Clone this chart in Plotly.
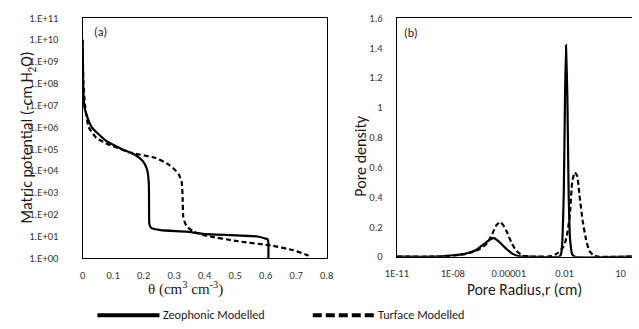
import plotly.graph_objects as go

# ---------------- data: panel (a) water retention ----------------
zeo_theta = [0.0, 0.002, 0.005, 0.01, 0.03, 0.076, 0.128, 0.172, 0.198, 0.211, 0.217, 0.218,
             0.219, 0.225, 0.256, 0.34, 0.394, 0.574, 0.598, 0.607, 0.609, 0.609]
zeo_h = [1e10, 1e8, 1e7, 5e6, 1e6, 2.4e5, 1e5, 5.4e4, 2.7e4, 1.2e4, 3e3, 3e2,
         37, 24, 19, 16.2, 13, 9.8, 7.9, 7.2, 5, 1]

tur_theta = [0.0, 0.003, 0.008, 0.013, 0.02, 0.045, 0.085, 0.125, 0.145, 0.19, 0.24, 0.28, 0.30,
             0.315, 0.325, 0.328, 0.33, 0.336, 0.343, 0.365, 0.405, 0.51, 0.617, 0.69, 0.739, 0.745]
tur_h = [1e10, 1e8, 1e7, 3.2e6, 1e6, 3.2e5, 1.6e5, 1e5, 7.4e4, 5.4e4, 3.8e4, 2e4, 1.2e4,
         7e3, 3e3, 5.6e2, 80, 40, 27, 16.2, 10.7, 5.9, 3.8, 2.3, 1.3, 1]

# ---------------- data: panel (b) pore size distribution ----------------
zeo_r = [1e-11, 1e-9, 2.7e-9, 8.6e-9, 2.8e-8, 7.1e-8, 1.8e-7, 3.3e-7, 7.2e-7, 1.29e-6, 1.62e-6,
         2.3e-6, 3.6e-6, 7.9e-6, 1.75e-5, 3.9e-5, 1e-4, 5.1e-3, 6.5e-3, 7.7e-3, 9.1e-3, 1.06e-2,
         1.19e-2, 1.41e-2, 1.65e-2, 1.98e-2, 2.56e-2, 3.6e-2, 40]
zeo_pd = [0, 0, 0.003, 0.008, 0.015, 0.026, 0.045, 0.07, 0.103, 0.123, 0.124,
          0.113, 0.092, 0.05, 0.017, 0.003, 0, 0, 0.017, 0.114, 0.436, 1.08,
          1.418, 1.08, 0.436, 0.114, 0.017, 0, 0]

tur_r = [1e-11, 1e-9, 3.5e-9, 1.09e-8, 4.4e-8, 1.12e-7, 2.2e-7, 4.5e-7, 7.2e-7, 1.29e-6, 1.62e-6,
         2.3e-6, 3.6e-6, 5.2e-6, 7.9e-6, 1.43e-5, 2.6e-5, 5.8e-5, 1.2e-4, 3.9e-4, 1.25e-3, 2.1e-3,
         3.2e-3, 4.7e-3, 8.1e-3, 1.06e-2, 1.41e-2, 1.94e-2, 2.56e-2, 3.5e-2, 4.8e-2, 6.3e-2,
         9.3e-2, 0.143, 0.21, 0.38, 0.66, 40]
tur_pd = [0, 0, 0.003, 0.007, 0.017, 0.03, 0.045, 0.07, 0.092, 0.15, 0.178, 0.215,
          0.232, 0.21, 0.167, 0.092, 0.039, 0.006, 0.001, 0, 0.001, 0.006, 0.014,
          0.028, 0.06, 0.092, 0.157, 0.285, 0.5, 0.565, 0.54, 0.414, 0.243, 0.114,
          0.039, 0.006, 0, 0]

a_yticks = [10 ** k for k in range(0, 12)]
a_yticktext = ["1.E+%02d" % k for k in range(0, 12)]
a_xticks = [0, 0.1, 0.2, 0.3, 0.4, 0.5, 0.6, 0.7, 0.8]
a_xticktext = ["0", "0.1", "0.2", "0.3", "0.4", "0.5", "0.6", "0.7", "0.8"]
b_xticks = [1e-11, 1e-8, 1e-5, 1e-2, 10]
b_xticktext = ["1E-11", "1E-08", "0.00001", "0.01", "10"]
b_yticks = [0, 0.2, 0.4, 0.6, 0.8, 1.0, 1.2, 1.4, 1.6]
b_yticktext = ["0", "0.2", "0.4", "0.6", "0.8", "1", "1.2", "1.4", "1.6"]

series_names = ["Zeophonic Modelled", "Turface Modelled"]

W, H = 639, 329
FONT = "Carlito, Calibri, Lato, sans-serif"
TICKC = "#333333"
TXT = "#1a1a1a"

def px(x):
    return x / W

def py(y):
    return 1 - y / H

fig = go.Figure()
lw = 2.2
dash = "5px,3px"
fig.add_trace(go.Scatter(x=zeo_theta, y=zeo_h, mode="lines", name=series_names[0],
                         line=dict(color="black", width=lw, shape="spline", smoothing=0.5),
                         xaxis="x", yaxis="y", showlegend=False))
fig.add_trace(go.Scatter(x=tur_theta, y=tur_h, mode="lines", name=series_names[1],
                         line=dict(color="black", width=lw, dash=dash, shape="spline", smoothing=0.5),
                         xaxis="x", yaxis="y", showlegend=False))
fig.add_trace(go.Scatter(x=zeo_r, y=zeo_pd, mode="lines", name=series_names[0],
                         line=dict(color="black", width=lw, shape="spline", smoothing=0.4),
                         xaxis="x2", yaxis="y2", showlegend=False))
fig.add_trace(go.Scatter(x=tur_r, y=tur_pd, mode="lines", name=series_names[1],
                         line=dict(color="black", width=lw, dash=dash, shape="spline", smoothing=0.4),
                         xaxis="x2", yaxis="y2", showlegend=False))

axcommon = dict(showgrid=False, zeroline=False, showline=True, linecolor="black", linewidth=1.3,
                ticks="", tickfont=dict(family=FONT, size=10.5, color=TICKC))

fig.update_layout(
    width=W, height=H, margin=dict(l=0, r=0, t=0, b=0),
    paper_bgcolor="white", plot_bgcolor="white", showlegend=False,
    xaxis=dict(domain=[px(72.7), px(324.3)], range=[0, 0.8], tickvals=a_xticks,
               ticktext=a_xticktext, mirror=True, anchor="y", ticklabelstandoff=7, **axcommon),
    yaxis=dict(domain=[py(262.5), py(12.3)], type="log", range=[0, 11], tickvals=a_yticks,
               ticktext=a_yticktext, mirror=True, anchor="x", ticklabelstandoff=21, **axcommon),
    xaxis2=dict(domain=[px(396.7), 1.0], type="log", range=[-11, 1.62], tickvals=b_xticks,
                ticktext=b_xticktext, mirror=True, anchor="y2", ticklabelstandoff=7, **axcommon),
    yaxis2=dict(domain=[py(261), py(12.5)], range=[0, 1.6], tickvals=b_yticks,
                ticktext=b_yticktext, mirror=False, anchor="x2", ticklabelstandoff=11, **axcommon),
)

ann = [
    dict(text="(a)", x=px(82), y=py(27), xanchor="left", yanchor="middle",
         font=dict(family=FONT, size=12, color=TXT)),
    dict(text="(b)", x=px(402), y=py(28), xanchor="left", yanchor="middle",
         font=dict(family=FONT, size=12, color=TXT)),
    dict(text="θ (cm<sup>3</sup> cm<sup>-3</sup>)", x=px(179), y=py(294.5), xanchor="center",
         yanchor="middle", font=dict(family="Liberation Serif, Times New Roman, serif", size=15, color=TXT)),
    dict(text="Pore Radius,r (cm)", x=px(528.7), y=py(295.5), xanchor="center", yanchor="middle",
         font=dict(family=FONT, size=15.5, color=TXT)),
    dict(text="Matric potential (-cm H<sub>2</sub>O)", x=px(16), y=py(137.5), textangle=-90,
         xanchor="center", yanchor="middle", font=dict(family=FONT, size=16, color=TXT)),
    dict(text="Pore density", x=px(359), y=py(156.5), textangle=-90,
         xanchor="center", yanchor="middle", font=dict(family=FONT, size=16, color=TXT)),
    dict(text=series_names[0], x=px(154), y=py(321.5), xanchor="left", yanchor="middle",
         font=dict(family=FONT, size=12.2, color=TXT)),
    dict(text=series_names[1], x=px(375), y=py(321.5), xanchor="left", yanchor="middle",
         font=dict(family=FONT, size=12.2, color=TXT)),
]
for a in ann:
    a.update(xref="paper", yref="paper", showarrow=False)
fig.update_layout(annotations=ann)

fig.update_layout(shapes=[
    dict(type="line", xref="paper", yref="paper", x0=px(88), x1=px(152), y0=py(322), y1=py(322),
         line=dict(color="black", width=4)),
    dict(type="line", xref="paper", yref="paper", x0=px(310), x1=px(373), y0=py(322), y1=py(322),
         line=dict(color="black", width=4, dash="9px,4px")),
])

fig.write_html("out.html")
